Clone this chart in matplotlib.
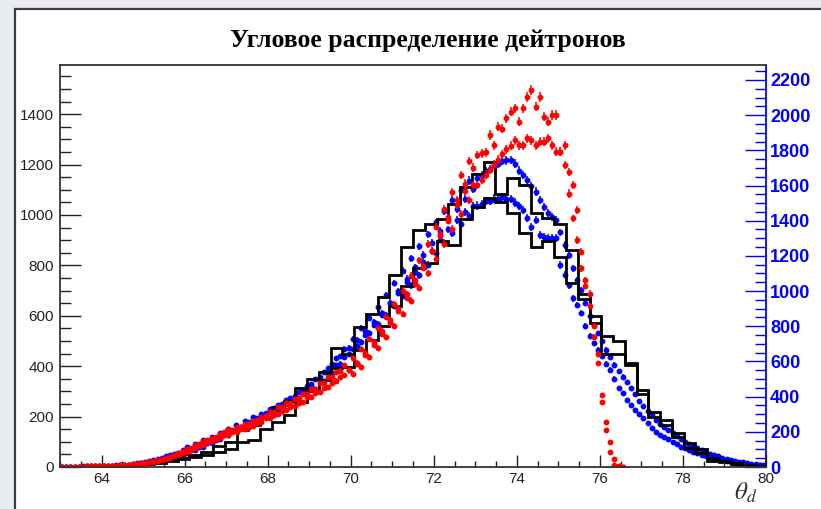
import numpy as np
import matplotlib.pyplot as plt
from matplotlib.patches import Rectangle
from matplotlib.ticker import MultipleLocator

plt.rcParams['mathtext.fontset'] = 'stix'
plt.rcParams['font.family'] = ['Liberation Sans', 'DejaVu Sans']

TITLE = "Угловое распределение дейтронов"

# binning: histograms 60 bins, points 170 bins on [63, 80]
hist_edges = np.linspace(63, 80, 61)
pt_edges = np.linspace(63, 80, 171)
pt_centers = 0.5 * (pt_edges[:-1] + pt_edges[1:])

# black step histograms (left axis)
hist_a = [3, 4, 5, 6, 8, 10, 13, 17, 22, 28,
          36, 46, 60, 82, 100, 147, 165, 200, 239, 260,
          315, 350, 378, 471, 447, 557, 607, 673, 762, 874,
          940, 965, 985, 1045, 1109, 1161, 1211, 1083, 1145, 1119,
          1006, 986, 964, 861, 686, 599, 520, 501, 414, 305,
          219, 186, 136, 96, 70, 34, 25, 14, 8, 4]
hist_b = [2, 3, 4, 5, 6, 8, 10, 13, 17, 22,
          30, 38, 48, 60, 70, 100, 107, 150, 180, 206,
          258, 300, 345, 392, 395, 464, 505, 559, 640, 720,
          788, 808, 898, 881, 982, 1033, 1066, 1050, 1006, 929,
          871, 898, 834, 731, 665, 570, 447, 447, 404, 290,
          199, 167, 120, 74, 54, 25, 18, 10, 5, 3]

# red points (left axis), from 63.05 to 76.55
red_upper = [0, 0, 1, 1, 1, 1, 2, 2, 2, 3,
             3, 4, 4, 5, 6, 7, 8, 10, 12, 14,
             17, 20, 23, 27, 30, 36, 40, 47, 55, 62,
             72, 76, 86, 92, 102, 106, 116, 121, 132, 137,
             150, 138, 160, 149, 170, 158, 182, 174, 200, 196,
             220, 206, 238, 222, 252, 240, 270, 254, 290, 276,
             310, 292, 332, 314, 356, 334, 378, 356, 404, 384,
             432, 410, 468, 446, 508, 484, 552, 526, 596, 572,
             646, 620, 700, 672, 758, 728, 820, 790, 884, 856,
             954, 924, 1022, 990, 1090, 1058, 1158, 1124, 1214, 1188,
             1238, 1244, 1248, 1317, 1277, 1350, 1343, 1383, 1410, 1423,
             1370, 1423, 1469, 1496, 1430, 1469, 1390, 1370, 1396, 1396,
             1251, 1277, 1171, 1118, 1019, 854, 741, 688, 517, 412,
             285, 147, 61, 7, 2, 1]
red_lower = [0, 0, 0, 1, 1, 1, 1, 2, 2, 2,
             3, 3, 4, 5, 6, 7, 8, 9, 11, 13,
             15, 18, 21, 25, 28, 33, 37, 43, 48, 56,
             61, 69, 74, 83, 89, 98, 103, 112, 117, 127,
             126, 146, 140, 160, 150, 172, 163, 186, 178, 204,
             196, 220, 212, 238, 226, 254, 242, 272, 258, 290,
             278, 310, 298, 332, 318, 356, 342, 382, 364, 386,
             370, 414, 398, 452, 436, 494, 474, 538, 516, 584,
             560, 632, 608, 686, 660, 740, 712, 798, 768, 858,
             826, 918, 884, 978, 944, 1040, 1004, 1096, 1060, 1118,
             1120, 1140, 1160, 1180, 1200, 1220, 1240, 1260, 1275, 1297,
             1277, 1277, 1304, 1297, 1277, 1290, 1290, 1304, 1277, 1250,
             1250, 1198, 1085, 986, 900, 788, 720, 640, 560, 450,
             259, 180, 100, 30, 5, 1]

# blue points (right axis), from 63.05 to 79.95
blue_upper = [0, 1, 1, 1, 1, 3, 3, 3, 4, 4,
              6, 6, 7, 9, 10, 13, 14, 17, 20, 24,
              30, 36, 41, 47, 53, 60, 66, 74, 82, 96,
              112, 104, 132, 122, 152, 140, 172, 160, 196, 186,
              218, 206, 240, 228, 264, 248, 284, 268, 304, 286,
              330, 306, 352, 328, 378, 350, 402, 376, 436, 410,
              472, 444, 514, 486, 562, 536, 618, 588, 672, 640,
              730, 690, 790, 748, 848, 806, 912, 866, 978, 934,
              1046, 1000, 1116, 1070, 1186, 1136, 1254, 1206, 1322, 1276,
              1390, 1344, 1456, 1408, 1516, 1466, 1572, 1522, 1628, 1580,
              1645, 1660, 1683, 1694, 1716, 1724, 1741, 1743, 1745, 1725,
              1684, 1659, 1631, 1598, 1565, 1518, 1476, 1442, 1419, 1404,
              1333, 1261, 1205, 1129, 1063, 1006, 931, 860, 808, 759,
              717, 665, 626, 580, 545, 513, 484, 447, 416, 375,
              344, 318, 294, 269, 246, 226, 209, 192, 175, 158,
              143, 130, 118, 106, 95, 85, 76, 67, 60, 53,
              46, 40, 34, 30, 26, 21, 19, 16, 13, 11]
blue_lower = [0, 0, 1, 1, 1, 1, 3, 3, 3, 4,
              4, 6, 6, 7, 9, 10, 11, 14, 17, 20,
              22, 26, 30, 35, 40, 45, 51, 57, 64, 72,
              80, 94, 96, 114, 116, 134, 136, 156, 158, 180,
              184, 204, 208, 230, 230, 256, 254, 280, 280, 306,
              310, 336, 330, 360, 356, 390, 386, 424, 420, 460,
              458, 498, 496, 540, 536, 584, 578, 630, 624, 676,
              668, 724, 712, 772, 760, 824, 812, 876, 864, 930,
              916, 990, 972, 1050, 1032, 1108, 1090, 1168, 1150, 1230,
              1214, 1292, 1272, 1350, 1328, 1402, 1380, 1448, 1424, 1482,
              1486, 1494, 1512, 1514, 1526, 1526, 1534, 1526, 1523, 1503,
              1485, 1460, 1413, 1366, 1404, 1318, 1308, 1300, 1300, 1300,
              1148, 1092, 1032, 959, 920, 874, 802, 745, 702, 665,
              631, 588, 552, 502, 447, 418, 381, 351, 324, 301,
              277, 252, 219, 201, 182, 169, 158, 143, 129, 116,
              106, 95, 85, 77, 69, 62, 54, 50, 43, 37,
              33, 29, 21, 19, 16, 14, 11, 10, 9, 7]

fig = plt.figure(figsize=(8.21, 5.09), dpi=100)
fig.patch.set_facecolor('#e8ebf0')
fig.patches.append(Rectangle((15 / 821, -0.05), 1.0, 1 - 9 / 509 + 0.05,
                             transform=fig.transFigure, facecolor='white',
                             edgecolor='#3c3c3c', linewidth=1.6, zorder=0))

ax = fig.add_axes([60 / 821, 42 / 509, 706 / 821, 402 / 509])
ax2 = ax.twinx()
ax.set_zorder(2)
ax2.set_zorder(1)
ax.patch.set_visible(False)

# blue on right axis
for vals in (blue_upper, blue_lower):
    v = np.array(vals, dtype=float)
    ax2.errorbar(pt_centers[:len(v)], v, yerr=0.6 * np.sqrt(v), xerr=0.04,
                 fmt='o', ms=3.2, color='#0000ff', elinewidth=1.1, capsize=0)

# red on left axis
for vals in (red_upper, red_lower):
    v = np.array(vals, dtype=float)
    ax.errorbar(pt_centers[:len(v)], v, yerr=0.5 * np.sqrt(v), xerr=0.04,
                fmt='o', ms=3.2, color='#ff0000', elinewidth=1.1, capsize=0)

ax.stairs(hist_a, hist_edges, color='black', linewidth=2.0, baseline=None)
ax.stairs(hist_b, hist_edges, color='black', linewidth=2.0, baseline=None)

ax.set_xlim(63, 80)
ax.set_ylim(0, 1595)
ax2.set_ylim(0, 2285)

ax.xaxis.set_major_locator(MultipleLocator(2))
ax.xaxis.set_minor_locator(MultipleLocator(0.5))
ax.yaxis.set_major_locator(MultipleLocator(200))
ax.yaxis.set_minor_locator(MultipleLocator(50))
ax2.yaxis.set_minor_locator(MultipleLocator(50))
ax2.set_yticks(np.arange(0, 2201, 200))
ax2.set_yticklabels([str(t) for t in range(0, 2201, 200)],
                    fontweight='bold', fontsize=13)

ax.tick_params(axis='y', which='major', direction='in', length=15, width=1,
               left=True, right=False, labelsize=11, labelcolor='#222222',
               color='#222222', pad=4.5)
ax.tick_params(axis='y', which='minor', direction='in', length=8, width=1,
               left=True, right=False, color='#222222')
ax.tick_params(axis='x', which='major', direction='in', length=8.5, width=1,
               top=False, labelsize=11, labelcolor='#222222', color='#222222',
               pad=3.5)
ax.tick_params(axis='x', which='minor', direction='in', length=4.3, width=1,
               top=False, color='#222222')
ax2.tick_params(axis='y', which='major', direction='in', length=15, width=1,
                color='#0000ff', labelcolor='#0000ff', pad=3)
ax2.tick_params(axis='y', which='minor', direction='in', length=8, width=1,
                color='#0000ff')

ax.spines['right'].set_visible(False)
for s in ('left', 'bottom', 'top'):
    ax.spines[s].set_color('#333333')
    ax.spines[s].set_linewidth(1.3)
for s in ('left', 'bottom', 'top'):
    ax2.spines[s].set_visible(False)
ax2.spines['right'].set_color('#0000ff')
ax2.spines['right'].set_linewidth(1.3)

fig.text(428 / 821, 1 - 40 / 509, TITLE, ha='center', va='center',
         fontsize=18.5, fontweight='bold', family='Liberation Serif')
fig.text(757 / 821, 1 - 493 / 509, r'$\theta_d$', ha='right', va='center',
         fontsize=18, color='#333333')

fig.savefig('out.png', dpi=100, facecolor=fig.get_facecolor())
